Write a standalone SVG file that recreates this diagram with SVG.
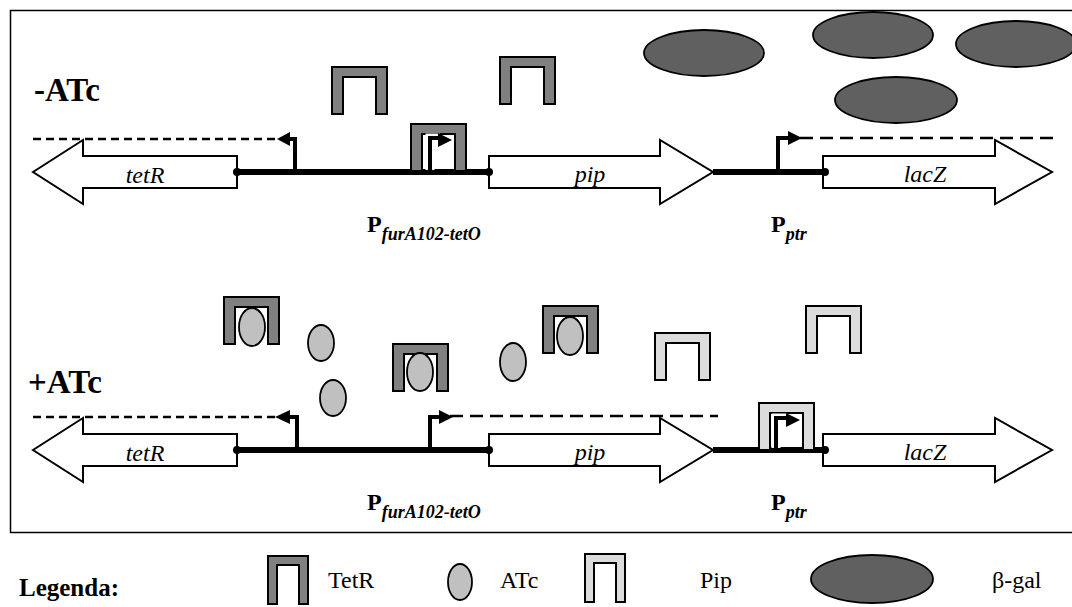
<svg xmlns="http://www.w3.org/2000/svg" width="1072" height="607" viewBox="0 0 1072 607">
<style>
.frame{fill:none;stroke:#000;stroke-width:1.5}
.gene{fill:#fff;stroke:#000;stroke-width:2;stroke-linejoin:miter}
.dna{stroke:#000;stroke-width:6;fill:none}
.dot{fill:#000}
.dashS{stroke:#000;stroke-width:2.5;stroke-dasharray:8 5;fill:none}
.dashL{stroke:#000;stroke-width:2.5;stroke-dasharray:13 7;fill:none}
.stem{stroke:#000;stroke-width:4;fill:none}
.stemW{stroke:#fff;stroke-width:9;fill:none}
.head{fill:#000}
.tetr{fill:#808080;stroke:#000;stroke-width:2}
.pip{fill:#dcdcdc;stroke:#000;stroke-width:2}
.atc{fill:#c0c0c0;stroke:#000;stroke-width:1.8}
.bgal{fill:#606060;stroke:#000;stroke-width:1.8}
.it{font-family:"Liberation Serif","Times New Roman",serif;font-style:italic;font-size:24px}
.cond{font-family:"Liberation Serif","Times New Roman",serif;font-weight:bold;font-size:33px}
.pl{font-family:"Liberation Serif","Times New Roman",serif;font-weight:bold;font-size:24px}
.sub{font-style:italic;font-size:18px}
.leg{font-family:"Liberation Serif","Times New Roman",serif;font-size:24px}
</style>
<defs>
<path id="u" d="M0,47 V0 H55 V47 H44 V10 H11 V47 Z"/>
<path id="uL" d="M0,48 V0 H40 V48 H31 V9 H9 V48 Z"/>
</defs>
<rect class="frame" x="10.5" y="10.5" width="1075" height="522"/>

<g id="row-minus">
<text class="cond" x="34" y="101">-ATc</text>
</g>
<g id="row-plus">
<text class="cond" x="28" y="393">+ATc</text>
</g>

<g id="tetR-top"><polygon class="gene" points="33,172 83,140 83,156 237,156 237,188 83,188 83,204"/><text class="it" x="145" y="183" text-anchor="middle">tetR</text></g>
<g id="pip-top"><polygon class="gene" points="489,156 660,156 660,140 713,172 660,204 660,188 489,188"/><text class="it" x="590" y="182" text-anchor="middle">pip</text></g>
<g id="lacZ-top"><polygon class="gene" points="823,156 995,156 995,140 1052,172 995,204 995,188 823,188"/><text class="it" x="925" y="182" text-anchor="middle">lacZ</text></g>
<g id="tetR-bot"><polygon class="gene" points="33,450 83,418 83,434 237,434 237,466 83,466 83,482"/><text class="it" x="145" y="461" text-anchor="middle">tetR</text></g>
<g id="pip-bot"><polygon class="gene" points="489,434 660,434 660,418 713,450 660,482 660,466 489,466"/><text class="it" x="590" y="460" text-anchor="middle">pip</text></g>
<g id="lacZ-bot"><polygon class="gene" points="823,434 995,434 995,418 1052,450 995,482 995,466 823,466"/><text class="it" x="925" y="460" text-anchor="middle">lacZ</text></g>

<g id="connectors">
<line class="dna" x1="237" y1="172" x2="489" y2="172"/>
<line class="dna" x1="713" y1="172" x2="825" y2="172"/>
<circle class="dot" cx="237" cy="172" r="4"/><circle class="dot" cx="489" cy="172" r="4"/><circle class="dot" cx="825" cy="172" r="4"/>
<line class="dna" x1="237" y1="450" x2="489" y2="450"/>
<line class="dna" x1="713" y1="450" x2="825" y2="450"/>
<circle class="dot" cx="237" cy="450" r="4"/><circle class="dot" cx="489" cy="450" r="4"/><circle class="dot" cx="825" cy="450" r="4"/>
<line class="dashS" x1="33" y1="139" x2="280" y2="139"/>
<line class="dashL" x1="800" y1="138" x2="1053" y2="138"/>
<line class="dashS" x1="33" y1="417" x2="278" y2="417"/>
<line class="dashL" x1="450" y1="416" x2="718" y2="416"/>
<path class="stem" d="M295,172 V139 H287"/><polygon class="head" points="277,139 290,132 290,146"/>
<path class="stem" d="M778,172 V138 H789"/><polygon class="head" points="802,138 788,131 788,145"/>
<path class="stem" d="M297,450 V417 H289"/><polygon class="head" points="275,417 290,410 290,424"/>
<path class="stem" d="M430,450 V417 H441"/><polygon class="head" points="453,417 439,410 439,424"/>
</g>

<g id="tetr1"><use href="#u" class="tetr" x="332" y="67"/></g>
<g id="tetr2"><use href="#u" class="tetr" x="500" y="57"/></g>
<g id="tetr-bound"><use href="#u" class="tetr" x="411" y="124"/>
<path class="stemW" d="M430,170 V138 H440"/><path class="stem" d="M430,170 V138 H440"/><polygon class="head" points="452,140 438,133 438,147"/></g>
<g id="bgal1"><ellipse class="bgal" cx="704" cy="53" rx="60" ry="23"/></g>
<g id="bgal2"><ellipse class="bgal" cx="873" cy="35" rx="60" ry="23"/></g>
<g id="bgal3"><ellipse class="bgal" cx="1016" cy="44" rx="60" ry="23"/></g>
<g id="bgal4"><ellipse class="bgal" cx="896" cy="100" rx="61" ry="23"/></g>

<g id="tetr3"><use href="#u" class="tetr" x="224" y="297"/><ellipse class="atc" cx="252" cy="327" rx="13" ry="19"/></g>
<g id="tetr4"><use href="#u" class="tetr" x="393" y="344"/><ellipse class="atc" cx="420" cy="372" rx="13" ry="19"/></g>
<g id="tetr5"><use href="#u" class="tetr" x="543" y="306"/><ellipse class="atc" cx="570" cy="336" rx="13" ry="19"/></g>
<g id="atc1"><ellipse class="atc" cx="321" cy="343" rx="13" ry="18"/></g>
<g id="atc2"><ellipse class="atc" cx="333" cy="398" rx="13" ry="18"/></g>
<g id="atc3"><ellipse class="atc" cx="513" cy="362" rx="13" ry="19"/></g>
<g id="pip1"><use href="#u" class="pip" x="655" y="333"/></g>
<g id="pip2"><use href="#u" class="pip" x="806" y="306"/></g>
<g id="pip-bound"><use href="#u" class="pip" x="759" y="403"/>
<path class="stemW" d="M776,448 V418 H787"/><path class="stem" d="M776,448 V418 H787"/><polygon class="head" points="800,420 786,413 786,427"/></g>

<text class="pl" x="367" y="232">P<tspan class="sub" dy="8">furA102-tetO</tspan></text>
<text class="pl" x="771" y="232">P<tspan class="sub" dy="8">ptr</tspan></text>
<text class="pl" x="367" y="510">P<tspan class="sub" dy="8">furA102-tetO</tspan></text>
<text class="pl" x="771" y="510">P<tspan class="sub" dy="8">ptr</tspan></text>

<g id="legend">
<text class="pl" x="19" y="596" style="font-size:25px">Legenda:</text>
<use href="#uL" class="tetr" x="268" y="556"/>
<text class="leg" x="328" y="588">TetR</text>
<ellipse class="atc" cx="460" cy="582" rx="12" ry="18"/>
<text class="leg" x="500" y="588">ATc</text>
<use href="#uL" class="pip" x="585" y="554"/>
<text class="leg" x="700" y="588">Pip</text>
<ellipse class="bgal" cx="872" cy="579" rx="61" ry="24"/>
<text class="leg" x="992" y="588">β-gal</text>
</g>
</svg>
